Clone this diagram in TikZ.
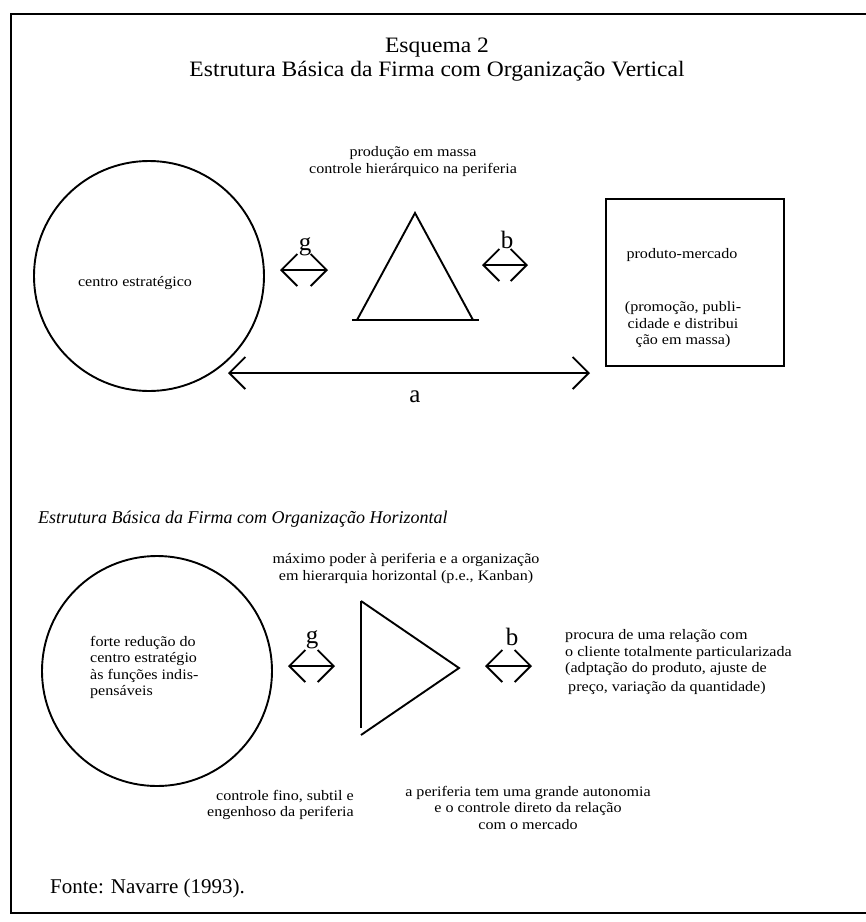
\documentclass[tikz,border=0pt]{standalone}
\usepackage{fontspec}
\setmainfont{Liberation Serif}
\newfontfamily\bodyserif[FakeStretch=1.11]{Liberation Serif}
\newfontfamily\headserif[FakeStretch=1.07]{Liberation Serif}
\usetikzlibrary{arrows.meta}

\newcommand\smalltxt{\bodyserif\fontsize{14.5}{16.5}\selectfont}
\newcommand\headtxt{\headserif\fontsize{22}{24}\selectfont}

\tikzset{
  ink/.style={line width=1.9pt},
  barb/.tip={Straight Barb[length=16pt,width=32pt]},
  twoway/.style={ink, barb-barb},
  txt/.style={font=\smalltxt, inner sep=0pt},
  head/.style={font=\headtxt, inner sep=0pt},
  lbl/.style={font=\fontsize{25}{25}\selectfont, inner sep=0pt},
}

\begin{document}
\begin{tikzpicture}[x=1pt, y=-1pt]
\useasboundingbox (0,0) rectangle (866,922);

% page frame
\draw[line width=2.2pt] (866,14) -- (11,14) -- (11,913) -- (866,913);

% ---------------- vertical organisation ----------------
\node[head] (t1) at (437,48) {Esquema 2};
\node[head] (t2) at (437,71) {Estrutura Básica da Firma com Organização Vertical};

\node[txt, align=center] (topnote) at (413,161.5)
  {produção em massa\\controle hierárquico na periferia};

\node[circle, draw, ink, minimum size=230pt, inner sep=0pt] (c1) at (149,276) {};
\node[txt] (c1txt) at (135,283) {centro estratégico};

% triangle
\coordinate (ta) at (415,213);
\coordinate (tl) at (357,320);
\coordinate (tr) at (473,320);
\draw[ink] (tl) -- (ta) -- (tr);
\draw[ink] ([xshift=-5pt]tl) -- ([xshift=6pt]tr);

% product-market box
\node[draw, line width=2pt, minimum width=178pt, minimum height=167pt, inner sep=0pt]
  (pm) at (695,282.5) {};
\node[txt] (pmtitle) at (682,255) {produto-mercado};
\node[txt, align=center] (pmnote) at (683,325)
  {(promoção, publi-\\cidade e distribui\\ção em massa)};

% g and b links
\coordinate (g1l) at (280,270);
\coordinate (g1r) at (328,270);
\draw[twoway] (g1l) -- (g1r);
\node[lbl] (g1) at (305,247) {g};

\coordinate (b1l) at (482,265);
\coordinate (b1r) at (528,265);
\draw[twoway] (b1l) -- (b1r);
\node[lbl] (b1) at (507,240) {b};

% a link
\coordinate (al) at (228,373);
\coordinate (ar) at (590,373);
\draw[twoway] (al) -- (ar);
\node[lbl] (alab) at (415,397) {a};

% ---------------- horizontal organisation ----------------
\node[font=\itshape\fontsize{18}{20}\selectfont, inner sep=0pt, anchor=west]
  (t3) at (38,519) {Estrutura Básica da Firma com Organização Horizontal};

\node[txt, align=center] (botnote) at (406,568.5)
  {máximo poder à periferia e a organização\\em hierarquia horizontal (p.e., Kanban)};

\node[circle, draw, ink, minimum size=230pt, inner sep=0pt] (c2) at (157,671) {};
\node[txt, align=left, anchor=west] (c2txt) at (90,667.5)
  {forte redução do\\centro estratégio\\às funções indis-\\pensáveis};

% right-pointing triangle
\coordinate (ut) at (361,601);
\coordinate (up) at (459,668);
\coordinate (ub) at (361,735);
\draw[ink] (ut) -- (up) -- (ub);
\draw[ink] (ut) -- ([yshift=7pt]ub);

\coordinate (g2l) at (288,666);
\coordinate (g2r) at (335,666);
\draw[twoway] (g2l) -- (g2r);
\node[lbl] (g2) at (312,640) {g};

\coordinate (b2l) at (485,666);
\coordinate (b2r) at (532,666);
\draw[twoway] (b2l) -- (b2r);
\node[lbl] (b2) at (512,637) {b};

\node[txt, align=left, anchor=west] (client) at (565,662)
  {procura de uma relação com\\o cliente totalmente particularizada\\(adptação do produto, ajuste de\\[2pt]\hspace*{3pt}preço, variação da quantidade)};

\node[txt, align=right, anchor=east] (fine) at (354,805)
  {controle fino, subtil e\\engenhoso da periferia};

\node[txt, align=center] (auto) at (528,807.5)
  {a periferia tem uma grande autonomia\\e o controle direto da relação\\com o mercado};

\node[font=\fontsize{21}{24}\selectfont, inner sep=0pt, anchor=west]
  (src) at (50,888) {Fonte: Navarre (1993).};
\end{tikzpicture}
\end{document}
